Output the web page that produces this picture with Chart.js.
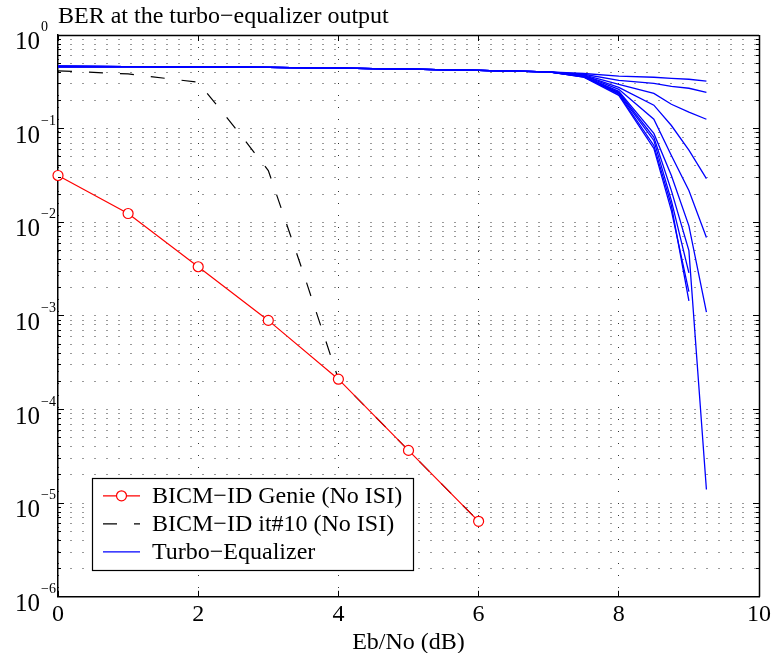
<!DOCTYPE html>
<html>
<head>
<meta charset="utf-8">
<title>BER at the turbo-equalizer output</title>
<script src="https://cdn.jsdelivr.net/npm/chart.js@4.4.1/dist/chart.umd.min.js"></script>
<style>
  html, body { margin: 0; padding: 0; background: #fff; }
  #wrap { width: 777px; height: 653px; }
</style>
</head>
<body>
<div id="wrap"><canvas id="ber" width="777" height="653"></canvas></div>
<script>
const serif = '"Liberation Serif", "Times New Roman", serif';

// BICM-ID genie bound (no ISI)
const genieX = [0, 1, 2, 3, 4, 5, 6];
const genieBer = [0.0316, 0.0124, 0.00335, 8.95e-4, 2.11e-4, 3.66e-5, 6.4e-6];

// BICM-ID after 10 iterations (no ISI)
const it10X = [0, 1, 2, 2.5, 3, 3.5, 4, 5, 6];
const it10Ber = [0.414, 0.384, 0.313, 0.108, 0.0357, 0.00287, 2.11e-4, 3.66e-5, 6.4e-6];

// Turbo-equalizer: all iterations share the flat part, then fan out
const teX = [0, 1, 2, 3, 4, 5, 6, 7, 7.5, 8, 8.5, 8.75, 9, 9.25];
const teFlat = [0.461, 0.459, 0.456, 0.451, 0.442, 0.432, 0.418, 0.403];
const teTails = [
    [0.388, 0.363, 0.354, 0.345, 0.337, 0.321],
    [0.381, 0.328, 0.305, 0.283, 0.27, 0.244],
    [0.375, 0.297, 0.238, 0.182, 0.15, 0.126],
    [0.371, 0.276, 0.178, 0.108, 0.0588, 0.0293],
    [0.367, 0.263, 0.126, 0.0516, 0.0218, 0.00686],
    [0.363, 0.25, 0.0889, 0.0316, 0.00916, 0.0011],
    [0.359, 0.238, 0.0748, 0.017, 0.00288, null],
    [0.356, 0.233, 0.0662, 0.0151, 0.00145, null],
    [0.36, 0.244, 0.0807, 0.0218, 0.00498, 1.4e-5],
    [0.354, 0.227, 0.0615, 0.0133, 0.00182, null]
];

// axis ticks
const xTicks = [0, 2, 4, 6, 8, 10];
const yExponents = [0, -1, -2, -3, -4, -5, -6];
const yMinorSteps = [1, 2, 3, 4, 5, 6, 7, 8, 9];

function toPoints(xs, ys) {
    return xs.map((x, i) => ({ x: x, y: ys[i] }));
}

function yGridValues() {
    const vals = [];
    yExponents.forEach(e => {
        if (e === 0) { vals.push(1); return; }
        yMinorSteps.forEach(m => vals.push(m * Math.pow(10, e)));
    });
    return vals.sort((a, b) => a - b);
}

function align(p) {
    return Math.round(p - 0.5) + 0.5;
}

const legendItems = [
    { text: 'BICM\u2212ID Genie (No ISI)', color: '#ff0000', dash: [], marker: true },
    { text: 'BICM\u2212ID it#10 (No ISI)', color: '#000000', dash: [14, 17], marker: false },
    { text: 'Turbo\u2212Equalizer', color: '#0000ff', dash: [], marker: false }
];

const frameAndLegend = {
    id: 'frameAndLegend',
    afterDraw(chart) {
        const { ctx, chartArea: a, scales } = chart;
        ctx.save();
        ctx.strokeStyle = '#000';
        ctx.lineWidth = 1.5;
        ctx.setLineDash([]);

        // top and right edges of the box
        ctx.beginPath();
        ctx.moveTo(a.left, align(a.top));
        ctx.lineTo(a.right, align(a.top));
        ctx.moveTo(align(a.right), a.top);
        ctx.lineTo(align(a.right), a.bottom);
        ctx.stroke();

        // inward tick marks
        ctx.lineWidth = 1;
        ctx.beginPath();
        scales.x.ticks.forEach(t => {
            const px = align(scales.x.getPixelForValue(t.value));
            ctx.moveTo(px, a.bottom);
            ctx.lineTo(px, a.bottom - 6);
            ctx.moveTo(px, a.top);
            ctx.lineTo(px, a.top + 6);
        });
        scales.y.ticks.forEach(t => {
            const py = align(scales.y.getPixelForValue(t.value));
            const len = Math.abs(Math.log10(t.value) % 1) < 1e-6 ? 6 : 3;
            ctx.moveTo(a.left, py);
            ctx.lineTo(a.left + len, py);
            ctx.moveTo(a.right, py);
            ctx.lineTo(a.right - len, py);
        });
        ctx.stroke();

        // y tick labels as 10^k
        ctx.fillStyle = '#000';
        yExponents.forEach(e => {
            const py = scales.y.getPixelForValue(Math.pow(10, e));
            ctx.font = '25px ' + serif;
            ctx.textAlign = 'right';
            ctx.textBaseline = 'alphabetic';
            ctx.fillText('10', a.left - 18, py + 14);
            ctx.font = '14px ' + serif;
            ctx.textAlign = 'left';
            ctx.fillText(e === 0 ? '0' : '\u2212' + (-e), a.left - 17, py - 4);
        });

        // legend box
        const lx = a.left + 34, ly = a.bottom - 118, lw = 321, lh = 92;
        ctx.fillStyle = '#fff';
        ctx.fillRect(lx, ly, lw, lh);
        ctx.strokeStyle = '#000';
        ctx.lineWidth = 1.2;
        ctx.strokeRect(align(lx), align(ly), lw, lh);
        legendItems.forEach((item, i) => {
            const ry = ly + 17 + i * 28;
            ctx.strokeStyle = item.color;
            ctx.lineWidth = 1.2;
            ctx.setLineDash(item.dash);
            ctx.beginPath();
            ctx.moveTo(lx + 11, ry);
            ctx.lineTo(lx + 48, ry);
            ctx.stroke();
            ctx.setLineDash([]);
            if (item.marker) {
                ctx.fillStyle = '#fff';
                ctx.beginPath();
                ctx.arc(lx + 29.5, ry, 5, 0, Math.PI * 2);
                ctx.fill();
                ctx.stroke();
            }
            ctx.fillStyle = '#000';
            ctx.font = '24px ' + serif;
            ctx.textAlign = 'left';
            ctx.textBaseline = 'middle';
            ctx.fillText(item.text, lx + 60, ry + 1);
        });
        ctx.restore();
    }
};

const datasets = [];
datasets.push({
    label: 'BICM\u2212ID Genie (No ISI)',
    data: toPoints(genieX, genieBer),
    borderColor: '#ff0000',
    borderWidth: 1.2,
    pointRadius: 5,
    pointBorderWidth: 1.2,
    pointBackgroundColor: '#ffffff',
    pointBorderColor: '#ff0000',
    clip: false,
    order: 0
});
datasets.push({
    label: 'BICM\u2212ID it#10 (No ISI)',
    data: toPoints(it10X, it10Ber),
    borderColor: '#000000',
    borderWidth: 1.2,
    borderDash: [14, 17],
    pointRadius: 0,
    order: 2
});
teTails.forEach((tail, i) => {
    datasets.push({
        label: i === 0 ? 'Turbo\u2212Equalizer' : '',
        data: toPoints(teX, teFlat.concat(tail)),
        borderColor: '#0000ff',
        borderWidth: 1.3,
        pointRadius: 0,
        spanGaps: false,
        order: 1
    });
});

new Chart(document.getElementById('ber'), {
    type: 'line',
    data: { datasets: datasets },
    options: {
        responsive: false,
        animation: false,
        layout: { padding: { left: 58, right: 13, top: 0, bottom: 1 } },
        elements: { line: { tension: 0 } },
        plugins: {
            legend: { display: false },
            tooltip: { enabled: false },
            title: {
                display: true,
                text: 'BER at the turbo\u2212equalizer output',
                align: 'start',
                color: '#000',
                font: { family: serif, size: 24, weight: 'normal', lineHeight: 1 },
                padding: { top: 5, bottom: 6 }
            }
        },
        scales: {
            x: {
                type: 'linear',
                min: 0,
                max: 10,
                afterBuildTicks: scale => { scale.ticks = xTicks.map(v => ({ value: v })); },
                ticks: {
                    color: '#000',
                    font: { family: serif, size: 24, lineHeight: 1 },
                    padding: 6,
                    maxRotation: 0,
                    autoSkip: false
                },
                grid: { color: 'rgba(0,0,0,0.8)', lineWidth: 1, drawTicks: false },
                border: { color: '#000', width: 1.5, dash: [1, 11] },
                title: {
                    display: true,
                    text: 'Eb/No (dB)',
                    color: '#000',
                    font: { family: serif, size: 24, lineHeight: 0.8 },
                    padding: { top: 0, bottom: 0 }
                }
            },
            y: {
                type: 'logarithmic',
                min: 1e-6,
                max: 1,
                afterBuildTicks: scale => { scale.ticks = yGridValues().map(v => ({ value: v })); },
                ticks: { display: false, autoSkip: false },
                grid: { color: 'rgba(0,0,0,0.8)', lineWidth: 1, drawTicks: false },
                border: { color: '#000', width: 1.5, dash: [1, 11] }
            }
        }
    },
    plugins: [frameAndLegend]
});
</script>
</body>
</html>
